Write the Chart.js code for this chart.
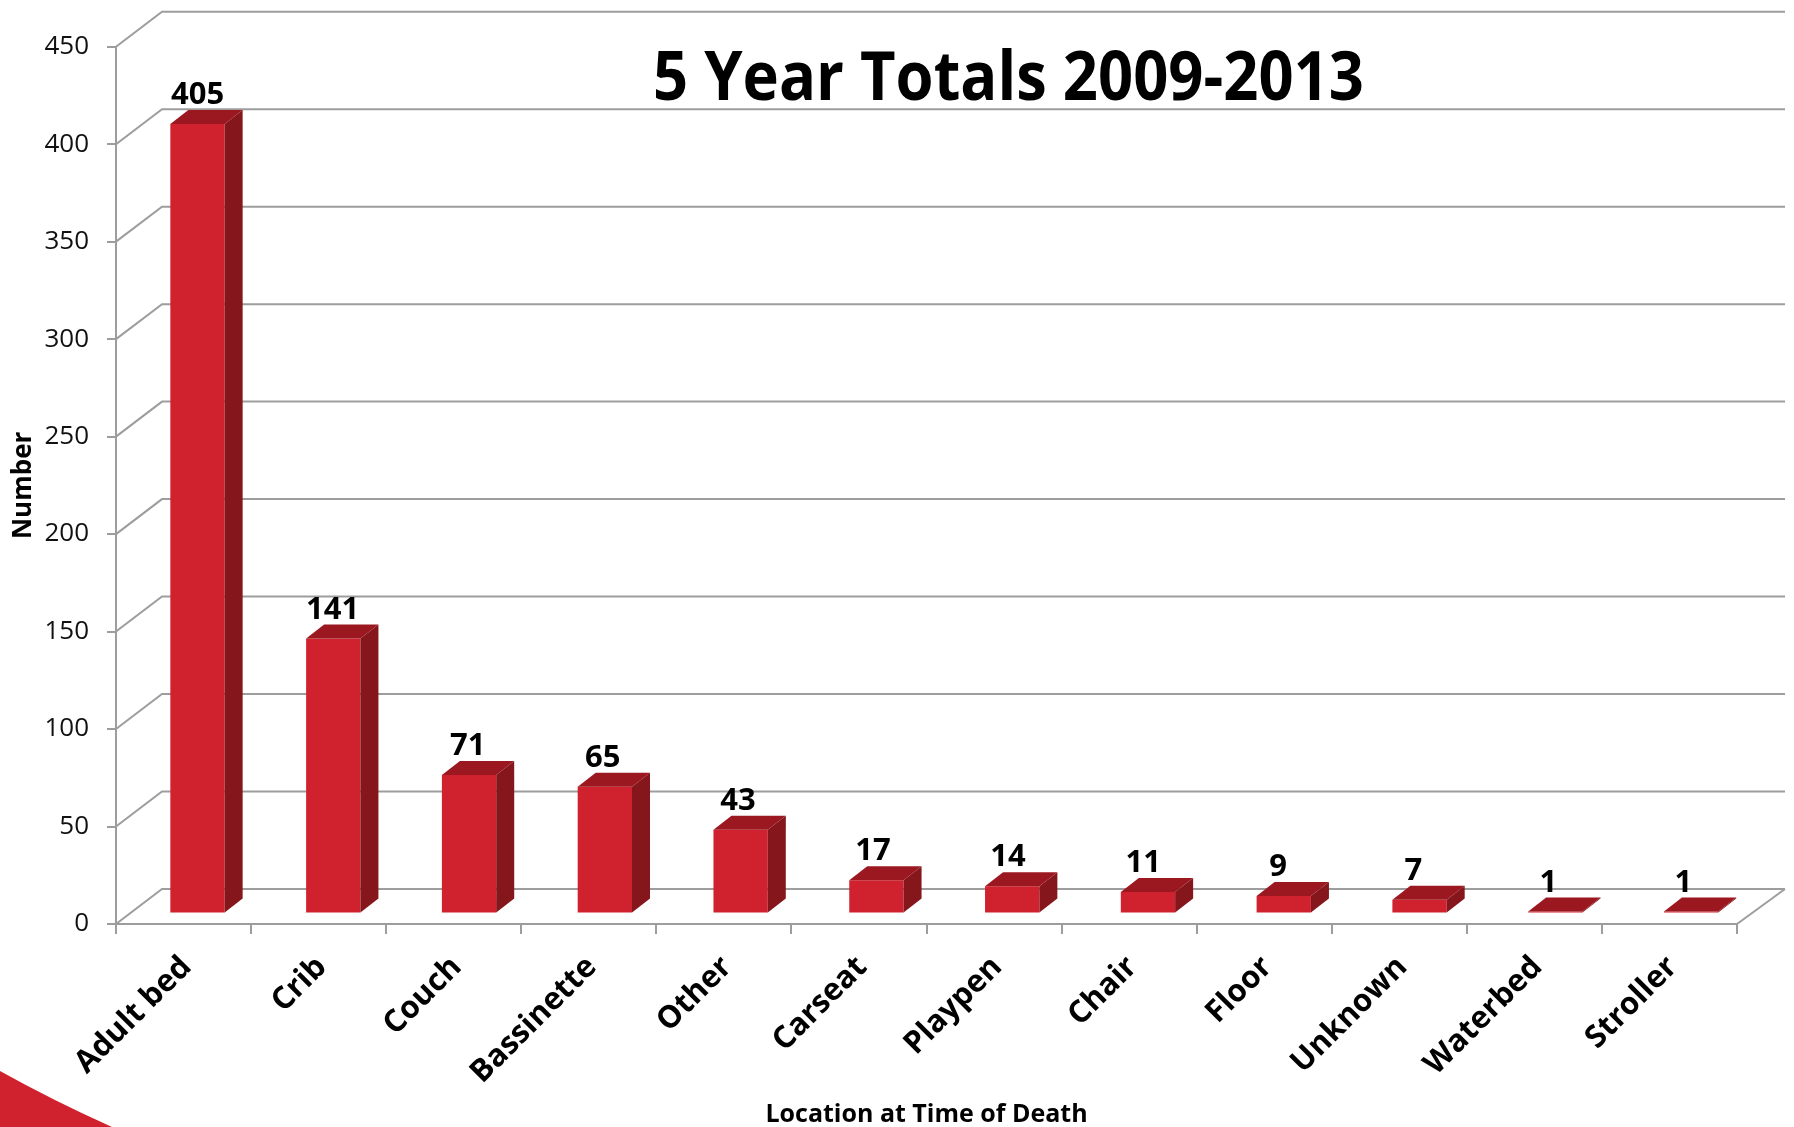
<!DOCTYPE html>
<html>
<head>
<meta charset="utf-8">
<script src="https://cdn.jsdelivr.net/npm/chart.js@4.4.1/dist/chart.umd.min.js"></script>
<style>
html,body{margin:0;padding:0;background:#fff;}
#wrap{width:1794px;height:1127px;position:relative;}
</style>
</head>
<body>
<div id="wrap"><canvas id="c"></canvas></div>
<script>
// ---- data ----
const categories = ['Adult bed','Crib','Couch','Bassinette','Other','Carseat','Playpen','Chair','Floor','Unknown','Waterbed','Stroller'];
const counts = [405,141,71,65,43,17,14,11,9,7,1,1];
const yTickValues = [0,50,100,150,200,250,300,350,400,450];
const chartTitle = '5 Year Totals 2009-2013';
const yAxisTitle = 'Number';
const xAxisTitle = 'Location at Time of Death';

// ---- style ----
const FRONT = '#D0222E', SIDE = '#84161C', TOP = '#9C1820', GRID = '#9d9d9d';
const FONT = "'Open Sans', 'Noto Sans', sans-serif";
const WALL_DX_L = 46, WALL_DX_R = 48, WALL_DY = 35;
const BAR_SHIFT_L = 13.6, BAR_SHIFT_R = 22, BAR_DY = -10.5;
const DEPTH_DX = 18, DEPTH_DY = 14;
const LABEL_SHIFT = 14;

function barMap(chart){
  const a = chart.chartArea;
  const k = (BAR_SHIFT_R - BAR_SHIFT_L) / (a.right - a.left);
  return {k, e: BAR_SHIFT_L - a.left * k, f: BAR_DY,
          tx: x => x * (1 + k) + (BAR_SHIFT_L - a.left * k)};
}

const backgroundPlugin = {
  id: 'bg',
  beforeDraw(chart){
    const ctx = chart.ctx;
    ctx.save();
    ctx.fillStyle = '#fff';
    ctx.fillRect(0,0,chart.width,chart.height);
    ctx.fillStyle = FRONT;
    ctx.beginPath();
    ctx.moveTo(0,1071);
    ctx.quadraticCurveTo(52,1100,112,1127);
    ctx.lineTo(0,1127);
    ctx.closePath();
    ctx.fill();
    ctx.restore();
  }
};

const wallPlugin = {
  id: 'wall',
  beforeDatasetsDraw(chart){
    const ctx = chart.ctx, a = chart.chartArea, ys = chart.scales.y;
    ctx.save();
    ctx.strokeStyle = GRID;
    ctx.lineWidth = 2;
    ys.ticks.forEach(t => {
      const py = ys.getPixelForValue(t.value);
      ctx.beginPath();
      ctx.moveTo(a.left, py);
      ctx.lineTo(a.left + WALL_DX_L, py - WALL_DY);
      ctx.lineTo(a.right + WALL_DX_R, py - WALL_DY);
      ctx.stroke();
    });
    const py0 = ys.getPixelForValue(0);
    ctx.beginPath();
    ctx.moveTo(a.right, py0);
    ctx.lineTo(a.right + WALL_DX_R, py0 - WALL_DY);
    ctx.stroke();
    ctx.restore();
    // transform for bar plane
    const m = barMap(chart);
    ctx.save();
    ctx.translate(m.e, m.f);
    ctx.scale(1 + m.k, 1);
  },
  afterDatasetsDraw(chart){
    const ctx = chart.ctx;
    ctx.restore();
    const m = barMap(chart);
    const meta = chart.getDatasetMeta(0);
    ctx.save();
    meta.data.forEach((el, i) => {
      const p = el.getProps(['x','y','base','width'], true);
      const l = m.tx(p.x - p.width/2), r = m.tx(p.x + p.width/2);
      const top = p.y + m.f, bot = p.base + m.f;
      // side face
      ctx.fillStyle = SIDE;
      ctx.beginPath();
      ctx.moveTo(r, top); ctx.lineTo(r + DEPTH_DX, top - DEPTH_DY);
      ctx.lineTo(r + DEPTH_DX, bot - DEPTH_DY); ctx.lineTo(r, bot);
      ctx.closePath(); ctx.fill();
      // top face
      ctx.fillStyle = TOP;
      ctx.beginPath();
      ctx.moveTo(l, top); ctx.lineTo(l + DEPTH_DX, top - DEPTH_DY);
      ctx.lineTo(r + DEPTH_DX, top - DEPTH_DY); ctx.lineTo(r, top);
      ctx.closePath(); ctx.fill();
      // value label
      ctx.fillStyle = '#000';
      ctx.font = "bold 31px " + FONT;
      ctx.textAlign = 'center';
      ctx.textBaseline = 'alphabetic';
      ctx.fillText(String(counts[i]), p.x + LABEL_SHIFT, top - 20);
    });
    ctx.restore();
  }
};

const titlePlugin = {
  id: 'bigTitle',
  afterDraw(chart){
    const ctx = chart.ctx;
    ctx.save();
    ctx.font = "bold 68px " + FONT;
    ctx.fillStyle = '#000';
    ctx.textAlign = 'left';
    ctx.textBaseline = 'alphabetic';
    const w = ctx.measureText(chartTitle).width;
    const targetW = 711, cx = 1008.5, base = 100;
    const s = targetW / w;
    ctx.translate(cx - targetW/2, base);
    ctx.scale(s, 1);
    ctx.fillText(chartTitle, 0, 0);
    ctx.restore();
  }
};

new Chart(document.getElementById('c'), {
  type: 'bar',
  data: {
    labels: categories,
    datasets: [{
      data: counts,
      backgroundColor: FRONT,
      borderWidth: 0,
      categoryPercentage: 1.0,
      barPercentage: 0.4,
      clip: false
    }]
  },
  plugins: [backgroundPlugin, wallPlugin, titlePlugin],
  options: {
    responsive: true,
    maintainAspectRatio: false,
    animation: false,
    devicePixelRatio: 1,
    layout: { padding: { top: 46.7, right: 57, left: 0, bottom: 0 } },
    plugins: { legend: { display: false }, tooltip: { enabled: false }, title: { display: false } },
    scales: {
      x: {
        offset: true,
        grid: { drawOnChartArea: false, offset: true, tickLength: 10, tickColor: GRID, lineWidth: 2 },
        border: { color: GRID, width: 2 },
        ticks: { autoSkip: false, minRotation: 45, maxRotation: 45, color: '#000', padding: 15, labelOffset: 3,
                 font: { family: FONT, size: 31, weight: 'bold' } },
        title: { display: true, text: xAxisTitle, color: '#000',
                 font: { family: FONT, size: 25, weight: 'bold', lineHeight: 1 },
                 padding: { top: 0, bottom: 0 } },
        afterFit(scale){ scale.height = 1127 - 924; }
      },
      y: {
        min: 0, max: 450,
        afterBuildTicks(scale){ scale.ticks = yTickValues.map(v => ({ value: v })); },
        grid: { drawOnChartArea: false, tickLength: 9, tickColor: GRID, lineWidth: 2 },
        border: { color: GRID, width: 2 },
        ticks: { color: '#111', padding: 18, font: { family: FONT, size: 26 } },
        title: { display: true, text: yAxisTitle, color: '#000',
                 font: { family: FONT, size: 26, weight: 'bold', lineHeight: 1 },
                 padding: { top: 11, bottom: 0 } },
        afterFit(scale){ scale.width = 116; }
      }
    }
  }
});
</script>
</body>
</html>
